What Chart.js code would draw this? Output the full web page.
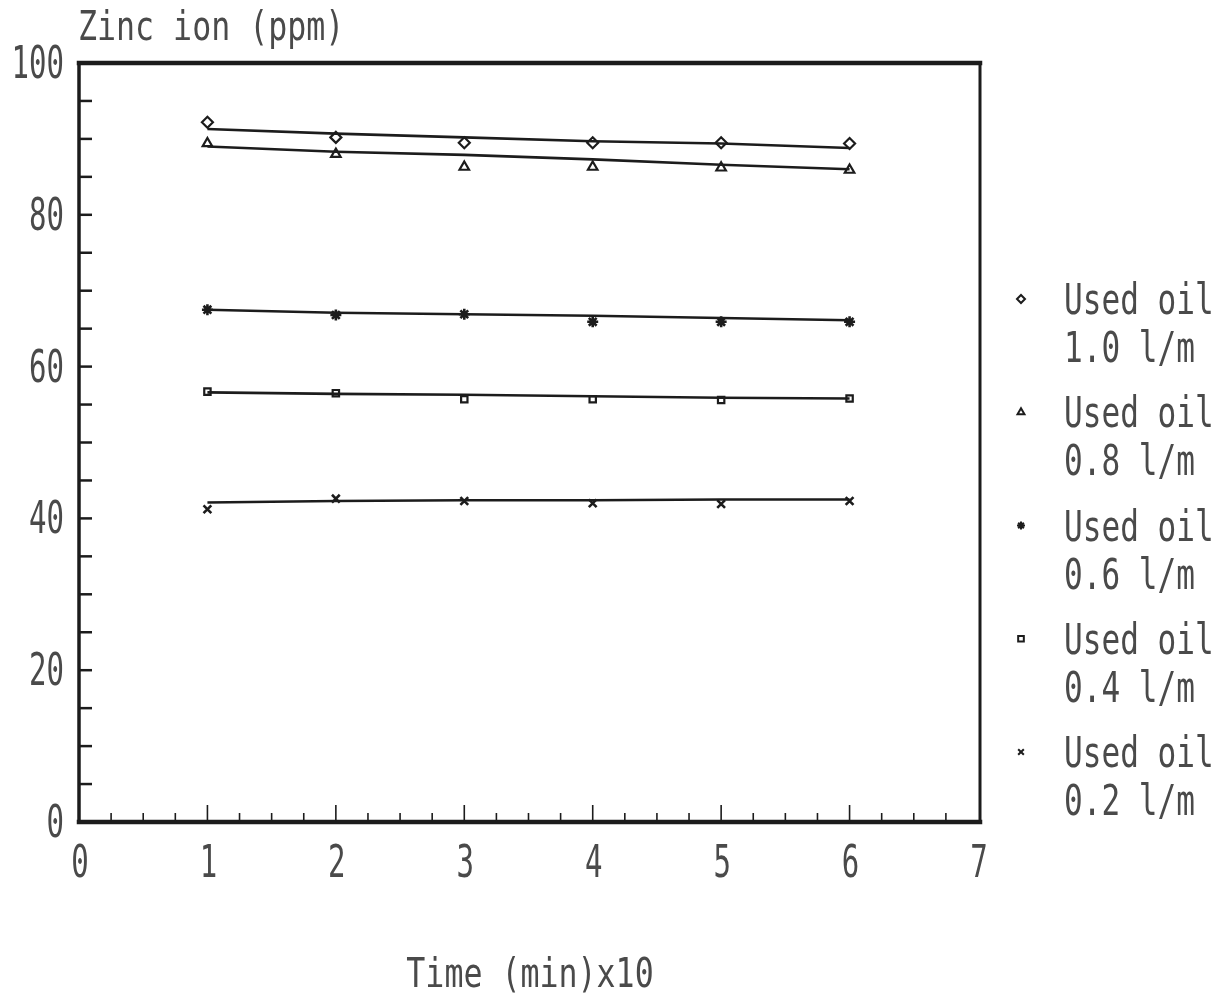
<!DOCTYPE html>
<html>
<head>
<meta charset="utf-8">
<script src="https://cdn.jsdelivr.net/npm/chart.js@4"></script>
<style>
html,body{margin:0;padding:0;background:#fff;}
#wrap{width:1231px;height:999px;}
</style>
</head>
<body>
<div id="wrap"><canvas id="c" width="1231" height="999"></canvas></div>
<script>
// ---- data ----
const times = [1, 2, 3, 4, 5, 6];

const oil10Points = [92.2, 90.2, 89.5, 89.5, 89.5, 89.4];
const oil10Line   = [91.3, 90.7, 90.2, 89.7, 89.4, 88.8];

const oil08Points = [89.4, 88.0, 86.3, 86.3, 86.2, 85.9];
const oil08Line   = [89.0, 88.3, 87.9, 87.3, 86.6, 86.0];

const oil06Points = [67.5, 66.8, 66.9, 65.9, 65.9, 65.9];
const oil06Line   = [67.5, 67.1, 66.9, 66.7, 66.4, 66.1];

const oil04Points = [56.7, 56.5, 55.7, 55.7, 55.6, 55.8];
const oil04Line   = [56.6, 56.4, 56.3, 56.1, 55.9, 55.8];

const oil02Points = [41.2, 42.6, 42.3, 42.0, 41.9, 42.3];
const oil02Line   = [42.1, 42.3, 42.4, 42.4, 42.5, 42.5];

const seriesNames = ["Used oil 1.0 l/m", "Used oil 0.8 l/m", "Used oil 0.6 l/m", "Used oil 0.4 l/m", "Used oil 0.2 l/m"];
const legendLine1 = ["Used oil", "Used oil", "Used oil", "Used oil", "Used oil"];
const legendLine2 = ["1.0 l/m", "0.8 l/m", "0.6 l/m", "0.4 l/m", "0.2 l/m"];
const markerStyles = ["rectRot", "triangle", "star", "rect", "crossRot"];

const yTickLabels = ["0", "20", "40", "60", "80", "100"];
const xTickLabels = ["0", "1", "2", "3", "4", "5", "6", "7"];
const yTitle = "Zinc ion (ppm)";
const xTitle = "Time (min)x10";

// ---- build datasets ----
const pointSets = [oil10Points, oil08Points, oil06Points, oil04Points, oil02Points];
const lineSets  = [oil10Line, oil08Line, oil06Line, oil04Line, oil02Line];
const INK = "#1c1c1c";
const TEXT = "#4a4a4a";

const datasets = [];
lineSets.forEach((vals, i) => {
  datasets.push({
    label: seriesNames[i] + " fit",
    data: times.map((t, k) => ({x: t, y: vals[k]})),
    showLine: true,
    borderColor: INK,
    borderWidth: 2.6,
    pointRadius: 0,
    tension: 0,
    fill: false
  });
});
pointSets.forEach((vals, i) => {
  const st = markerStyles[i];
  datasets.push({
    label: seriesNames[i],
    data: times.map((t, k) => ({x: t, y: vals[k]})),
    showLine: false,
    pointStyle: st,
    pointRadius: st === "rect" ? 4.5 : 5.5,
    pointBorderWidth: (st === "crossRot" || st === "star") ? 2.6 : 2.2,
    pointBorderColor: INK,
    pointBackgroundColor: "rgba(255,255,255,0)",
    isMarker: true
  });
});

function drawText(ctx, s, x, y, size, sx, align) {
  ctx.save();
  ctx.font = size + 'px "DejaVu Sans Mono"';
  ctx.textAlign = align;
  ctx.textBaseline = "alphabetic";
  ctx.fillStyle = TEXT;
  ctx.translate(x, y);
  ctx.scale(sx, 1);
  ctx.fillText(s, 0, 0);
  ctx.restore();
}

const framePlugin = {
  id: "frame",
  afterDraw(chart) {
    const ctx = chart.ctx;
    const a = chart.chartArea;
    const xs = chart.scales.x, ys = chart.scales.y;
    ctx.save();
    ctx.strokeStyle = INK;
    ctx.lineCap = "square";
    // frame
    ctx.lineWidth = 4.5;
    ctx.beginPath(); ctx.moveTo(a.left, a.top); ctx.lineTo(a.right + 2, a.top); ctx.stroke();
    ctx.beginPath(); ctx.moveTo(a.left, a.bottom); ctx.lineTo(a.right + 2, a.bottom); ctx.stroke();
    ctx.lineWidth = 3.5;
    ctx.beginPath(); ctx.moveTo(a.left, a.top); ctx.lineTo(a.left, a.bottom); ctx.stroke();
    ctx.lineWidth = 3;
    ctx.beginPath(); ctx.moveTo(a.right + 2, a.top); ctx.lineTo(a.right + 2, a.bottom); ctx.stroke();
    // y ticks every 5, inward
    ctx.lineWidth = 2.5;
    ctx.lineCap = "butt";
    for (let v = 5; v < 100; v += 5) {
      const py = ys.getPixelForValue(v);
      ctx.beginPath(); ctx.moveTo(a.left, py); ctx.lineTo(a.left + 13, py); ctx.stroke();
    }
    // x ticks every 0.25, inward
    ctx.lineWidth = 1.6;
    for (let q = 1; q < 28; q++) {
      const v = q / 4;
      const px = xs.getPixelForValue(v);
      const len = (q % 4 === 0) ? 17 : 9;
      ctx.beginPath(); ctx.moveTo(px, a.bottom); ctx.lineTo(px, a.bottom - len); ctx.stroke();
    }
    ctx.restore();

    // tick labels
    yTickLabels.forEach(lbl => {
      const py = ys.getPixelForValue(parseFloat(lbl));
      drawText(ctx, lbl, a.left - 15, py + 15, 44, 0.66, "right");
    });
    xTickLabels.forEach(lbl => {
      const px = xs.getPixelForValue(parseFloat(lbl));
      drawText(ctx, lbl, px + 1, 877, 44, 0.66, "center");
    });

    // titles
    drawText(ctx, yTitle, a.left - 1, 40, 40, 0.79, "left");
    drawText(ctx, xTitle, 530, 987, 40, 0.79, "center");

    // legend
    const markers = chart.data.datasets.filter(d => d.isMarker);
    markers.forEach((d, i) => {
      const cy = 299 + i * 113.25;
      ctx.save();
      ctx.strokeStyle = INK;
      ctx.fillStyle = "rgba(255,255,255,0)";
      ctx.lineWidth = 2;
      Chart.helpers.drawPoint(ctx, {pointStyle: d.pointStyle, radius: 4, borderWidth: 2, rotation: 0}, 1021, cy);
      ctx.restore();
      drawText(ctx, legendLine1[i], 1064, cy + 15, 42, 0.74, "left");
      drawText(ctx, legendLine2[i], 1064, cy + 63, 42, 0.74, "left");
    });
  }
};

new Chart(document.getElementById("c"), {
  type: "scatter",
  data: { datasets: datasets },
  options: {
    responsive: false,
    devicePixelRatio: 1,
    animation: false,
    layout: { padding: { left: 79, right: 1231 - 978, top: 63, bottom: 999 - 822 } },
    scales: {
      x: { type: "linear", min: 0, max: 7, display: false },
      y: { type: "linear", min: 0, max: 100, display: false }
    },
    plugins: { legend: { display: false }, tooltip: { enabled: false } }
  },
  plugins: [framePlugin]
});
</script>
</body>
</html>
